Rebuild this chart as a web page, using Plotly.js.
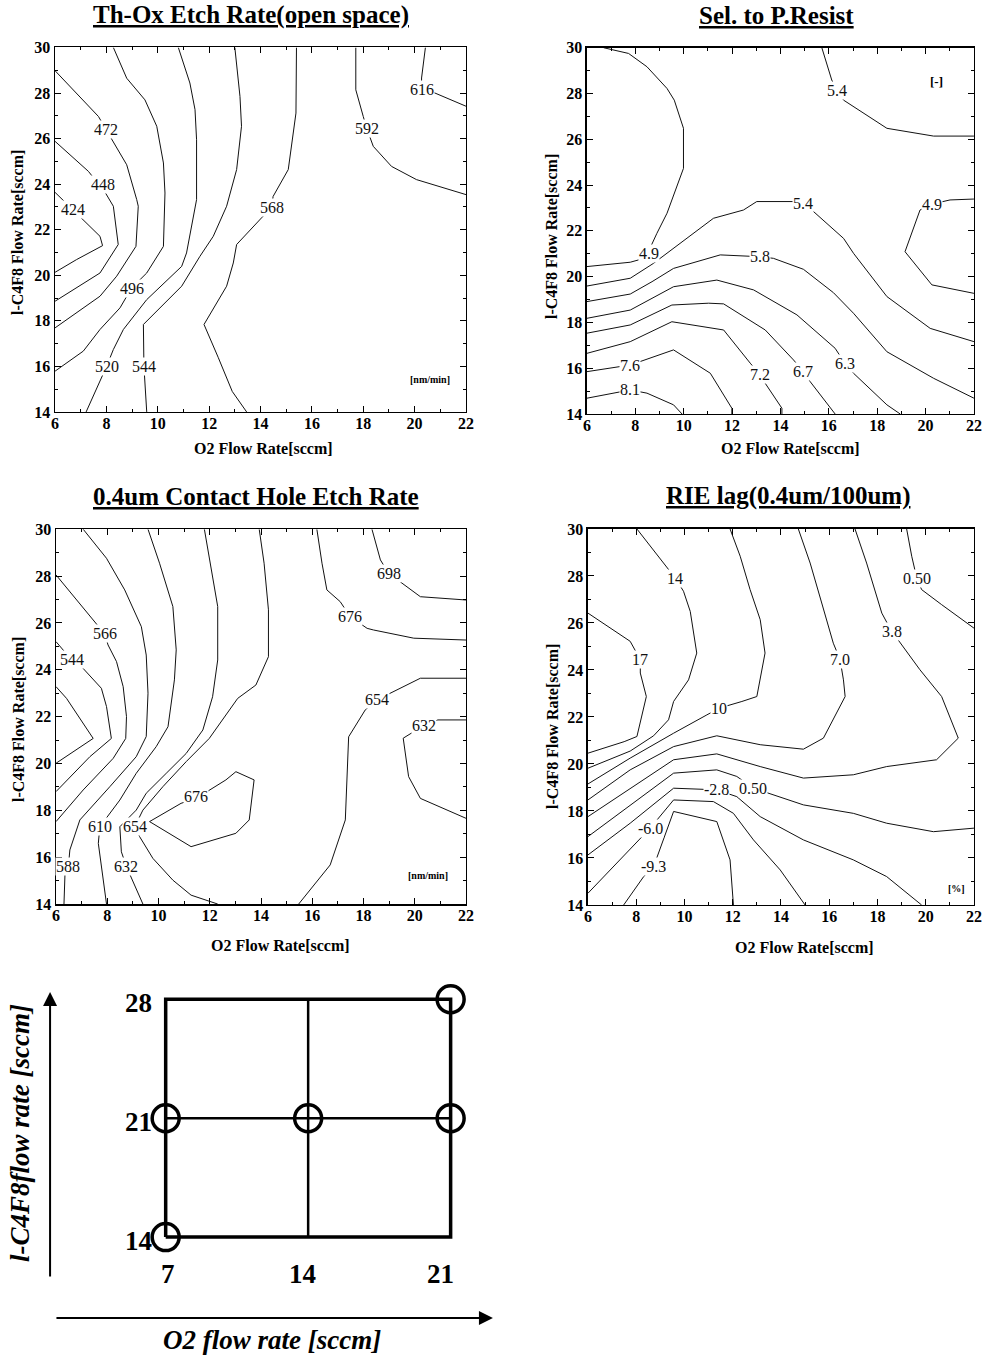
<!DOCTYPE html>
<html><head><meta charset="utf-8">
<script src="https://cdn.plot.ly/plotly-3.0.1.min.js"></script>
<style>html,body{margin:0;padding:0;background:#fff}</style>
</head><body><div id="chart" style="width:990px;height:1356px"></div>
<script>
// ===== Panel 1: Th-Ox Etch Rate (open space) [nm/min] =====
const thoxLevels = ['424','448','472','496','520','544','568','592','616'];
const thoxX = [
  [6,6.97,7.75,7.85,6.84,6],
  [6,7.30,7.95,8.27,8.46,7.75,6],
  [6,7.69,8.14,8.79,9.18,9.24,9.15,8.40,7.75,6],
  [8.27,8.79,9.50,9.96,10.22,10.28,10.22,9.57,8.98,8.53,7.75,7.10,6],
  [10.80,11.25,11.45,11.51,11.51,11.32,11.12,10.93,9.57,8.66,8.27,8.01,7.21],
  [13.0,13.20,13.26,13.07,12.68,12.16,11.64,10.93,9.44,9.46,9.57],
  [15.40,15.38,15.08,14.49,14.43,14.04,13.07,12.94,12.68,11.80,12.35,12.90,13.46],
  [17.71,17.71,18.0,18.13,18.39,19.10,20.07,22],
  [20.42,20.27,20.27,20.79,22]
];
const thoxY = [
  [23.64,22.59,21.71,21.30,20.69,20.13],
  [25.88,24.56,23.64,23.03,21.35,20.10,18.86],
  [28.98,26.97,26.10,24.85,23.32,23.03,21.27,19.96,19.08,17.69],
  [30,28.65,27.70,26.54,24.93,23.61,21.27,20.10,19.44,18.57,17.62,16.67,15.79],
  [30,28.44,27.27,25.95,23.32,22.15,20.98,20.39,18.93,17.62,16.74,16.01,14],
  [30,27.85,26.54,24.64,23.03,21.71,20.83,19.52,17.84,16.01,14],
  [30,27.12,24.64,23.46,22.96,22.52,21.35,20.54,19.52,17.84,16.40,14.90,14],
  [30,28.14,26.97,26.46,25.66,24.78,24.2,23.54],
  [30,28.66,28.14,28.0,27.42]
];
const thoxLabelX = [6.69,7.88,8.0,8.98,8.01,9.46,14.43,18.13,20.27];
const thoxLabelY = [22.9,24.0,26.4,19.44,16.01,16.01,22.96,26.46,28.14];

// ===== Panel 2: Sel. to P.Resist [-] =====
const selLevels = ['4.9','5.4','4.9','5.4','5.8','6.3','6.7','7.2','7.6','8.1'];
const selX = [
  [6.69,7.72,8.48,9.31,9.61,9.99,9.99,9.65,9.31,8.89,8.73,8.50,8.13,7.79,6],
  [15.71,16.12,16.33,16.61,18.40,20.33,22],
  [22,21.01,20.26,19.77,19.15,20.26,22],
  [6,7.79,8.75,9.58,11.23,12.47,13.02,14.54,14.95,15.37,16.61,17.02,18.40,20.19,22],
  [6,7.79,8.69,9.58,11.51,13.16,13.71,14.95,16.19,17.02,18.40,20.33,22],
  [6,7.79,9.58,11.37,12.89,14.68,16.26,16.68,17.02,18.40,18.95],
  [6,7.79,9.51,11.03,11.65,13.37,14.54,14.95,15.23,16.26],
  [6,7.79,9.51,11.65,12.75,13.16,13.37,14.06,14.06],
  [6,7.79,9.58,11.10,11.99,11.99],
  [6,7.38,7.79,8.48,9.58,9.93]
];
const selY = [
  [30,29.75,29.17,28.22,27.71,26.48,24.73,23.78,22.77,21.89,21.53,21.0,20.73,20.63,20.44],
  [30,28.59,28.15,27.71,26.48,26.14,26.14],
  [23.39,23.35,23.17,22.91,21.09,19.64,19.27],
  [19.59,19.93,20.58,21.24,22.55,22.91,23.28,23.28,23.17,22.84,21.67,21.02,19.13,17.74,17.16],
  [18.91,19.24,19.78,20.36,20.95,20.87,20.80,20.32,19.30,18.40,16.72,15.56,14.69],
  [18.18,18.54,19.56,19.85,19.42,18.33,16.87,16.19,15.78,14.40,14],
  [17.53,17.89,18.76,18.84,18.81,17.67,16.36,15.85,15.41,14],
  [16.65,17.16,18.03,17.67,16.22,15.71,15.34,14.25,14],
  [15.85,16.14,16.80,15.78,14.25,14],
  [14.69,14.98,15.05,14.91,14.40,14]
];
const selLabelX = [8.55,16.33,20.26,14.95,13.16,16.68,14.95,13.16,7.79,7.79];
const selLabelY = [21.0,28.15,23.17,23.2,20.87,16.19,15.85,15.71,16.14,15.05];

// ===== Panel 3: 0.4um Contact Hole Etch Rate [nm/min] =====
const holeLevels = [null,'544','566','588','610','632','654','654','676','676','698','632'];
const holeX = [
  [6,6.41,7.45,6],
  [6,6.61,6.93,7.77,7.97,8.16,7.32,6],
  [6,7.39,7.90,8.03,8.36,8.62,8.75,8.72,8.23,7.06,6],
  [7.06,7.97,8.68,9.33,9.52,9.59,9.52,9.13,8.10,6.93,6.54,6.48,6.35,6.31],
  [9.59,10.04,10.56,10.69,10.62,10.37,9.91,9.13,8.49,7.71,7.65,7.97],
  [11.79,11.98,12.31,12.31,12.11,11.73,11.08,10.30,9.52,9.13,8.49,8.55,8.75,9.39],
  [13.93,14.12,14.29,14.29,13.80,13.09,11.98,11.08,10.17,9.39,9.07,9.26,9.78,10.56,11.27,12.31],
  [15.47,16.70,17.29,17.42,18.07,18.53,20.22,22],
  [9.65,10.88,11.47,11.98,12.63,13.02,13.73,13.54,13.02,11.27,9.65],
  [16.18,16.38,16.57,17.09,17.48,18.14,18.39,19.96,22],
  [18.33,18.66,18.98,19.50,20.22,22],
  [22,20.9,20.35,19.55,19.76,20.22,22]
];
const holeY = [
  [23.28,22.78,21.07,20.01],
  [25.2,24.42,24.21,23.21,22.43,21.07,20.29,18.80],
  [28.05,26.20,25.53,25.06,24.35,23.28,22.0,21.07,20.22,18.87,17.52],
  [30,28.76,27.41,25.84,24.63,23.0,21.15,20.29,19.01,17.59,16.31,15.59,15.31,14],
  [30,28.55,26.70,24.85,23.57,21.57,20.72,19.58,18.44,17.30,16.59,14],
  [30,28.83,26.70,24.42,22.85,21.43,20.43,19.58,18.73,18.01,17.30,16.23,15.59,14],
  [30,28.55,26.56,24.56,23.35,22.78,21.07,20.08,19.01,18.01,17.30,16.88,15.95,15.02,14.38,14.0],
  [14,15.67,17.59,21.14,22.29,22.72,23.64,23.64],
  [17.52,18.30,18.51,18.87,19.30,19.65,19.30,17.59,17.02,16.45,17.52],
  [30,28.55,27.41,26.91,26.27,25.77,25.70,25.35,25.27],
  [30,28.69,28.12,27.69,27.12,26.98],
  [21.86,21.86,21.62,21.08,19.44,18.51,17.66]
];
const holeLabelX = [null,6.61,7.90,6.48,7.71,8.75,9.07,18.53,11.47,17.48,18.98,20.35];
const holeLabelY = [null,24.42,25.53,15.59,17.30,15.59,17.30,22.72,18.6,26.27,28.12,21.62];

// ===== Panel 4: RIE lag (0.4um/100um) [%] =====
const rieLevels = ['17','14','10','7.0','3.8','0.50','0.50','-2.8','-6.0','-9.3'];
const rieX = [
  [6,7.75,8.17,8.17,8.42,8.03,7.5,6],
  [8.03,9.20,9.62,9.96,10.24,10.51,10.17,9.55,9.34,8.72,7.75,6],
  [11.89,12.31,12.72,13.14,13.34,13.0,12.38,11.45,10.93,9.55,7.75,6],
  [14.72,15.21,15.69,16.17,16.45,16.59,16.66,15.76,14.93,13.14,11.34,9.55,7.75,6],
  [17.07,17.55,18.18,18.59,18.80,19.76,20.66,21.35,20.45,18.38,17.0,14.93,13.14,11.34,9.55,7.75,6],
  [19.21,19.42,19.63,19.83,20.66,22],
  [6,7.75,9.55,11.34,12.17,12.86,13.69,14.93,17.0,18.38,20.32,22],
  [6,7.75,9.55,11.34,12.17,13.14,14.93,17.0,18.38,19.83],
  [6,7.75,8.58,9.55,11.2,12.03,12.86,13.97,15.0],
  [7.48,8.31,8.72,9.0,9.55,11.34,11.89,12.03]
];
const rieY = [
  [26.42,25.22,24.44,23.87,22.87,21.17,20.95,20.46],
  [30,28.48,27.91,27.35,26.49,24.72,23.58,22.66,21.88,21.2,20.55,19.82],
  [30,28.84,27.42,26.14,24.72,22.87,22.66,22.38,22.09,21.31,20.25,19.15],
  [30,28.55,26.85,25.14,24.44,23.58,22.87,21.10,20.63,20.82,21.20,20.74,19.75,18.47],
  [30,28.55,26.42,25.64,25.36,24.01,22.87,21.10,20.18,19.89,19.54,19.40,19.89,20.43,20.18,18.97,17.76],
  [30,28.84,27.91,27.42,26.78,25.78],
  [16.91,18.26,19.61,19.75,19.47,18.97,18.69,18.26,17.90,17.48,17.12,17.27],
  [16.13,17.48,18.97,18.9,18.61,17.76,16.77,15.92,15.21,14],
  [14.5,16.41,17.27,18.47,18.40,17.90,16.77,15.49,14],
  [14,15.21,15.63,16.41,17.98,17.55,15.92,14]
];
const rieLabelX = [8.17,9.62,11.45,16.45,18.59,19.63,12.86,11.34,8.58,8.72];
const rieLabelY = [24.44,27.91,22.38,24.44,25.64,27.91,18.97,18.9,17.27,15.63];

// ===== Experimental design (bottom diagram) =====
const designO2 = [7, 14, 21];
const designC4F8 = [14, 21, 28];
const runO2 = [21, 7, 14, 21, 7];
const runC4F8 = [28, 21, 21, 21, 14];

const SERIF = 'Liberation Serif, Times New Roman, serif';
const traces = [];
const annotations = [];

function addPanel(n, xs, ys, labels, lx, ly) {
  const xa = n === 1 ? 'x' : 'x' + n, ya = n === 1 ? 'y' : 'y' + n;
  xs.forEach((x, i) => traces.push({
    type: 'scatter', mode: 'lines', x: x, y: ys[i], xaxis: xa, yaxis: ya,
    line: {color: '#111', width: 1}, hoverinfo: 'skip', showlegend: false
  }));
  labels.forEach((t, i) => {
    if (t === null) return;
    annotations.push({xref: xa, yref: ya, x: lx[i], y: ly[i], text: t, showarrow: false,
      xanchor: 'center', yanchor: 'middle', bgcolor: 'white', borderpad: 0,
      font: {family: SERIF, size: 16, color: '#111'}});
  });
}
addPanel(1, thoxX, thoxY, thoxLevels, thoxLabelX, thoxLabelY);
addPanel(2, selX, selY, selLevels, selLabelX, selLabelY);
addPanel(3, holeX, holeY, holeLevels, holeLabelX, holeLabelY);
addPanel(4, rieX, rieY, rieLevels, rieLabelX, rieLabelY);

// design diagram grid
const lo = Math.min(...designO2), hi = Math.max(...designO2);
const loC = Math.min(...designC4F8), hiC = Math.max(...designC4F8);
traces.push({type:'scatter', mode:'lines', xaxis:'x5', yaxis:'y5',
  x:[lo,hi,hi,lo,lo], y:[loC,loC,hiC,hiC,loC],
  line:{color:'#000', width:3.5}, hoverinfo:'skip', showlegend:false});
traces.push({type:'scatter', mode:'lines', xaxis:'x5', yaxis:'y5',
  x:[designO2[1],designO2[1],null,lo,hi], y:[loC,hiC,null,designC4F8[1],designC4F8[1]],
  line:{color:'#000', width:2.5}, hoverinfo:'skip', showlegend:false});
traces.push({type:'scatter', mode:'markers', xaxis:'x5', yaxis:'y5',
  x: runO2, y: runC4F8,
  marker:{symbol:'circle-open', size:27, color:'#000', line:{width:3.5, color:'#000'}},
  hoverinfo:'skip', showlegend:false});
designC4F8.forEach(v => annotations.push({xref:'x5', yref:'y5', x:lo, y:v, text:String(v),
  showarrow:false, xanchor:'right', yanchor:'middle', xshift:-12, yshift:-4,
  font:{family:SERIF, size:27, weight:'bold', color:'#000'}}));
const xsh = [2,-6,-10];
designO2.forEach((v,i) => annotations.push({xref:'x5', yref:'y5', x:v, y:loC, text:String(v),
  showarrow:false, xanchor:'center', yanchor:'top', yshift:-20, xshift:xsh[i],
  font:{family:SERIF, size:27, weight:'bold', color:'#000'}}));
// diagram axis arrows
annotations.push({xref:'x5', yref:'y5', axref:'x5', ayref:'y5', x:1.32, y:28.43, ax:1.32, ay:11.59,
  text:'', showarrow:true, arrowhead:2, arrowsize:1.4, arrowwidth:2, arrowcolor:'#000', standoff:0});
annotations.push({xref:'x5', yref:'y5', axref:'x5', ayref:'y5', x:23.08, y:9.24, ax:1.56, ay:9.24,
  text:'', showarrow:true, arrowhead:2, arrowsize:1.4, arrowwidth:2, arrowcolor:'#000', standoff:0});
annotations.push({xref:'paper', yref:'paper', x:0.0202, y:0.1645, text:'l-C4F8flow rate [sccm]',
  xanchor:'center', yanchor:'middle', textangle:-90, showarrow:false,
  font:{family:SERIF, size:27, weight:'bold', style:'italic', color:'#000'}});
annotations.push({xref:'paper', yref:'paper', x:0.2747, y:0.0118, text:'O2 flow rate [sccm]',
  xanchor:'center', yanchor:'middle', showarrow:false,
  font:{family:SERIF, size:27, weight:'bold', style:'italic', color:'#000'}});

// panel titles
const titles = [
  ['Th-Ox Etch Rate(open space)', 0.2535, 0.9889],
  ['Sel. to P.Resist', 0.7848, 0.9889],
  ['0.4um Contact Hole Etch Rate', 0.2586, 0.6342],
  ['RIE lag(0.4um/100um)', 0.7960, 0.6342]
];
titles.forEach(t => annotations.push({xref:'paper', yref:'paper', x:t[1], y:t[2], text:t[0],
  xanchor:'center', yanchor:'middle', showarrow:false,
  font:{family:SERIF, size:25, weight:'bold', lineposition:'under', color:'#000'}}));
// axis titles
const xt = [[0.2657,0.6689],[0.798,0.6689],[0.2838,0.3024],[0.8131,0.3016]];
const yt = [[0.0182,0.8282],[0.5566,0.8252],[0.0182,0.469],[0.5586,0.4639]];
xt.forEach(p => annotations.push({xref:'paper', yref:'paper', x:p[0], y:p[1], text:'O2 Flow Rate[sccm]',
  xanchor:'center', yanchor:'middle', showarrow:false,
  font:{family:SERIF, size:16, weight:'bold', color:'#000'}}));
yt.forEach(p => annotations.push({xref:'paper', yref:'paper', x:p[0], y:p[1], text:'l-C4F8 Flow Rate[sccm]',
  xanchor:'center', yanchor:'middle', textangle:-90, showarrow:false,
  font:{family:SERIF, size:16, weight:'bold', color:'#000'}}));
// unit tags
const units = [['[nm/min]','x domain','y domain',0.912,0.088],['[-]','x2 domain','y2 domain',0.904,0.907],
  ['[nm/min]','x3 domain','y3 domain',0.907,0.077],['[%]','x4 domain','y4 domain',0.956,0.045]];
units.forEach(u => annotations.push({xref:u[1], yref:u[2], x:u[3], y:u[4], text:u[0], showarrow:false,
  xanchor:'center', yanchor:'middle',
  font:{family:SERIF, size:u[0]==='[-]'?13:10, weight:'bold', color:'#000'}}));

function xax(dom, anchor) {
  return {domain: dom, anchor: anchor, range: [6,22], dtick: 2, tick0: 6, ticks: 'inside', ticklen: 6,
    tickwidth: 1, tickcolor:'#000', mirror: 'allticks', showline: true, linewidth: 1.5, linecolor: '#000',
    showgrid: false, zeroline: false, fixedrange: true, ticklabelstandoff: -4,
    minor: {dtick: 1, ticks: 'inside', ticklen: 3, tickcolor:'#000'},
    tickfont: {family: SERIF, size: 16, weight: 'bold', color: '#000'}};
}
function yax(dom, anchor) {
  const a = xax(dom, anchor); a.range = [14,30]; a.tick0 = 14; a.ticklabelstandoff = 0; return a;
}
const layout = {
  width: 990, height: 1356, margin: {l:0, r:0, t:0, b:0},
  paper_bgcolor: '#fff', plot_bgcolor: '#fff', showlegend: false,
  xaxis: xax([0.0556,0.4707],'y'), yaxis: yax([0.6962,0.965],'x'),
  xaxis2: xax([0.5929,0.9838],'y2'), yaxis2: yax([0.6947,0.9648],'x2'),
  xaxis3: xax([0.0566,0.4707],'y3'), yaxis3: yax([0.3333,0.6097],'x3'),
  xaxis4: xax([0.5939,0.9838],'y4'), yaxis4: yax([0.3326,0.6099],'x4'),
  xaxis5: {domain:[0,0.5], anchor:'y5', range:[-1.14,23.18], visible:false, fixedrange:true},
  yaxis5: {domain:[0,0.292], anchor:'x5', range:[7.0,30.31], visible:false, fixedrange:true},
  annotations: annotations
};
Plotly.newPlot('chart', traces, layout, {staticPlot: true, displayModeBar: false});
</script>
</body></html>
